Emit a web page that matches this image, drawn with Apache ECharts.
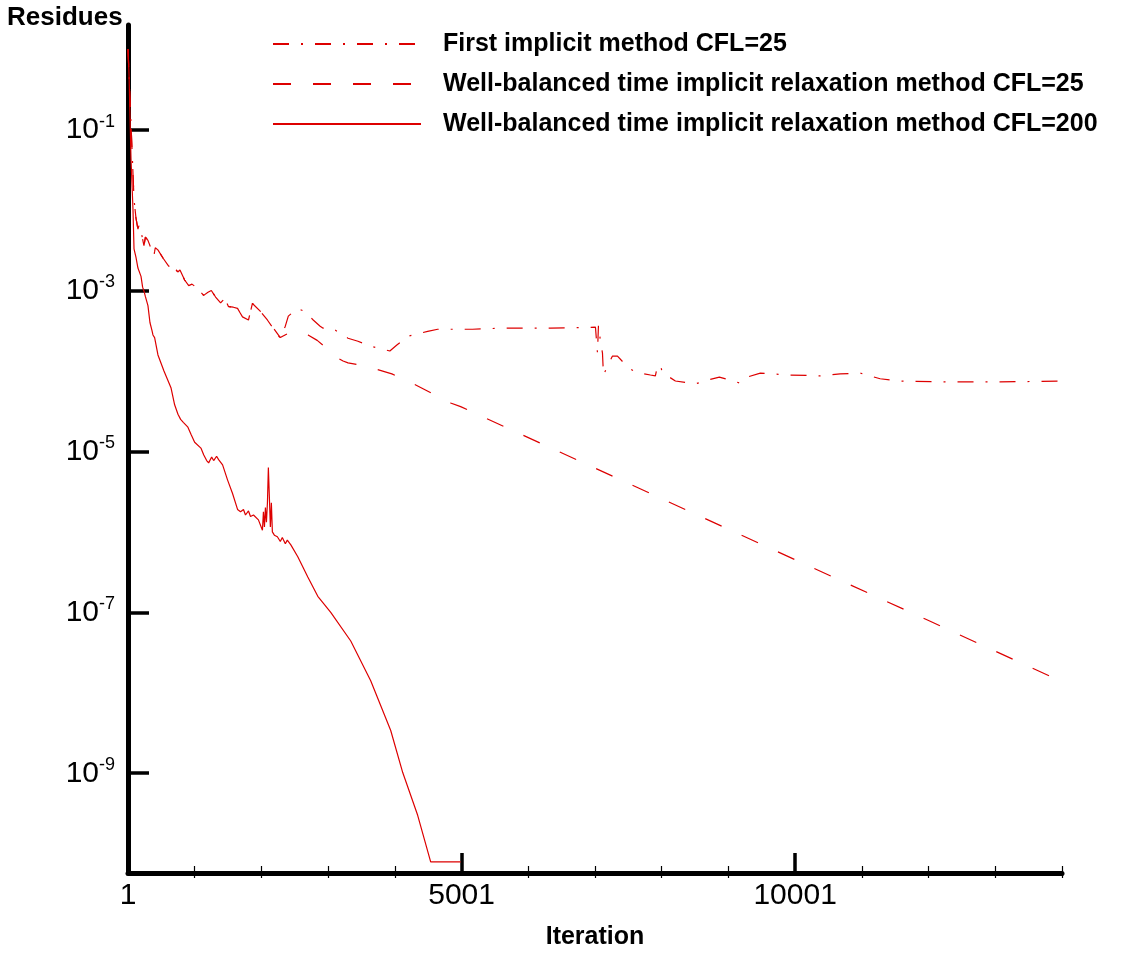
<!DOCTYPE html>
<html>
<head>
<meta charset="utf-8">
<script src="https://cdn.jsdelivr.net/npm/echarts@6/dist/echarts.min.js"></script>
<style>
  html, body { margin: 0; padding: 0; background: #fff; }
  #chart { width: 1140px; height: 955px; }
</style>
</head>
<body>
<div id="chart"></div>
<script>
// ---- Data (iteration, residue) ----
const seriesNames = [
  'First implicit method CFL=25',
  'Well-balanced time implicit relaxation method CFL=25',
  'Well-balanced time implicit relaxation method CFL=200'
];

// shared early part of the two CFL=25 curves
const cfl25Early = [
  [1, 1.0], [30, 0.25], [60, 0.06], [91, 1.37e-2], [120, 8.0e-3], [150, 5.8e-3],
  [170, 6.6e-3], [195, 5.5e-3], [240, 3.6e-3], [262, 4.6e-3], [300, 4.2e-3],
  [389, 2.7e-3], [410, 3.4e-3], [449, 3.2e-3], [530, 2.5e-3], [613, 2.0e-3],
  [650, 2.2e-3], [700, 1.9e-3], [747, 1.7e-3], [780, 1.8e-3], [850, 1.35e-3],
  [911, 1.15e-3], [960, 1.2e-3], [1046, 1.06e-3], [1135, 8.7e-4], [1200, 9.5e-4],
  [1250, 1.0e-3], [1314, 8.3e-4], [1389, 7.0e-4], [1450, 8.0e-4], [1508, 6.3e-4],
  [1580, 6.2e-4], [1643, 6.0e-4], [1717, 4.7e-4], [1807, 4.3e-4], [1866, 6.9e-4],
  [1986, 5.5e-4], [2090, 4.3e-4]
];

const firstImplicitLate = [
  [2284, 2.55e-4], [2359, 3.6e-4], [2404, 4.8e-4], [2538, 6.0e-4], [2650, 5.5e-4],
  [2777, 4.3e-4], [2881, 3.6e-4], [2926, 3.4e-4], [3061, 3.4e-4], [3180, 2.95e-4],
  [3299, 2.55e-4], [3448, 2.34e-4], [3628, 2.04e-4], [3926, 1.77e-4], [4031, 2.1e-4],
  [4193, 2.7e-4], [4493, 3.1e-4], [4643, 3.3e-4], [4837, 3.3e-4], [5166, 3.3e-4],
  [5586, 3.4e-4], [6335, 3.4e-4], [7008, 3.5e-4], [7038, 1.67e-4], [7053, 3.7e-4],
  [7083, 2.34e-4], [7113, 1.67e-4], [7128, 8.9e-5], [7188, 1.15e-4], [7263, 1.53e-4],
  [7338, 1.53e-4], [7502, 1.09e-4], [7637, 9.4e-5], [7682, 9.4e-5], [7832, 8.9e-5],
  [7906, 8.7e-5], [7936, 1.15e-4], [7981, 1.19e-4], [8011, 9.4e-5], [8086, 8.7e-5],
  [8206, 7.5e-5], [8505, 6.9e-5], [8685, 7.7e-5], [8865, 8.4e-5], [9165, 7.1e-5],
  [9284, 8.4e-5], [9479, 9.4e-5], [9928, 8.9e-5], [10377, 8.7e-5], [10676, 9.2e-5],
  [10976, 9.4e-5], [11275, 8.0e-5], [11575, 7.5e-5], [12324, 7.3e-5], [13072, 7.3e-5],
  [14001, 7.5e-5]
];

const wellBalanced25Late = [
  [2284, 2.6e-4], [2420, 3.0e-4], [2553, 3.1e-4], [2700, 2.8e-4], [2837, 2.4e-4],
  [2950, 2.0e-4], [3061, 1.58e-4], [3225, 1.33e-4], [3299, 1.26e-4], [3450, 1.2e-4],
  [3658, 1.09e-4], [3956, 9.2e-5], [4254, 7.1e-5], [4553, 5.3e-5], [4837, 4.0e-5],
  [4987, 3.6e-5], [7001, 6.2e-6], [10001, 4.5e-7], [12001, 7.9e-8], [14001, 1.37e-8]
];

const wellBalanced200 = [
  [1, 1.0], [16, 0.5], [46, 4.3e-2], [76, 1.0e-2], [91, 3.3e-3], [120, 2.6e-3],
  [150, 1.9e-3], [196, 1.5e-3], [220, 1.1e-3], [241, 9.8e-4], [260, 8.5e-4],
  [300, 6.5e-4], [330, 4.0e-4], [360, 3.2e-4], [375, 2.8e-4], [400, 2.6e-4],
  [450, 1.58e-4], [540, 1.0e-4], [645, 6.2e-5], [700, 3.8e-5], [750, 2.9e-5],
  [790, 2.5e-5], [830, 2.3e-5], [899, 2.0e-5], [950, 1.6e-5], [1000, 1.3e-5],
  [1094, 1.1e-5], [1135, 9.1e-6], [1180, 7.7e-6], [1210, 7.2e-6], [1255, 8.5e-6],
  [1285, 7.7e-6], [1329, 8.7e-6], [1359, 7.9e-6], [1419, 6.8e-6], [1494, 4.4e-6],
  [1568, 3.0e-6], [1643, 1.9e-6], [1688, 1.78e-6], [1732, 1.9e-6], [1762, 1.62e-6],
  [1807, 1.82e-6], [1837, 1.55e-6], [1882, 1.62e-6], [1956, 1.41e-6], [2016, 1.05e-6],
  [2031, 1.78e-6], [2046, 1.15e-6], [2061, 2.0e-6], [2076, 1.32e-6], [2091, 2.3e-6],
  [2105, 6.3e-6], [2120, 2.7e-6], [2135, 1.15e-6], [2150, 2.3e-6], [2165, 1.0e-6],
  [2195, 9.1e-7], [2240, 8.7e-7], [2284, 7.6e-7], [2314, 8.5e-7], [2359, 7.1e-7],
  [2389, 7.9e-7], [2442, 6.9e-7], [2546, 4.9e-7], [2696, 2.75e-7], [2846, 1.58e-7],
  [3040, 1.0e-7], [3340, 4.4e-8], [3639, 1.41e-8], [3939, 3.4e-9], [4119, 1.02e-9],
  [4343, 3.0e-10], [4538, 7.9e-11], [4987, 7.9e-11]
];

// axes / ticks
const xMin = 1, xMax = 14001;
const yMinExp = -10.24, yMaxExp = 0.3;
const xMajorTicks = [5001, 10001];
const xLabelValues = [1, 5001, 10001];
const xMinorTicks = [1001, 2001, 3001, 4001, 6001, 7001, 8001, 9001, 11001, 12001, 13001, 14001];
const yTickExps = [-1, -3, -5, -7, -9];

// ---- build ----
const toLog = arr => arr.map(([x, r]) => [x, Math.log10(r)]);
const FONT = '"Liberation Sans", Arial, sans-serif';
const RED = '#dd0000';
const gridRect = { left: 128, right: 78, top: 25, bottom: 77 };

const chart = echarts.init(document.getElementById('chart'), null, { renderer: 'canvas' });

chart.setOption({
  animation: false,
  backgroundColor: '#fff',
  title: {
    text: 'Residues', left: 7, top: 5, padding: 0,
    textStyle: { fontFamily: FONT, fontSize: 26, fontWeight: 'bold', color: '#000' }
  },
  legend: {
    orient: 'vertical', left: 272, top: 30, padding: 0,
    itemWidth: 148, itemHeight: 14, itemGap: 12,
    itemStyle: { opacity: 0 },
    textStyle: { fontFamily: FONT, fontSize: 25, fontWeight: 'bold', color: '#000', lineHeight: 28, padding: [0, 0, 0, 17] },
    data: seriesNames
  },
  grid: [
    Object.assign({}, gridRect),
    Object.assign({}, gridRect)
  ],
  xAxis: [
    {
      type: 'value', gridIndex: 0, min: xMin, max: xMax,
      name: 'Iteration', nameLocation: 'middle', nameGap: 52,
      nameTextStyle: { fontFamily: FONT, fontSize: 25, fontWeight: 'bold', color: '#000' },
      axisLine: { show: true, onZero: false, lineStyle: { color: '#000', width: 5 } },
      axisTick: { show: true, inside: true, length: 20, customValues: xMajorTicks, lineStyle: { color: '#000', width: 3.5 } },
      axisLabel: { customValues: xLabelValues, formatter: v => String(v), fontFamily: FONT, fontSize: 30, color: '#000', margin: 8 },
      splitLine: { show: false }
    },
    {
      type: 'value', gridIndex: 1, min: xMin, max: xMax, position: 'bottom',
      axisLine: { show: false, onZero: false },
      axisTick: { show: true, inside: true, length: 12, customValues: xMinorTicks, lineStyle: { color: '#000', width: 1.2 } },
      axisLabel: { show: false },
      splitLine: { show: false }
    }
  ],
  yAxis: [
    {
      type: 'value', gridIndex: 0, min: yMinExp, max: yMaxExp,
      axisLine: { show: true, onZero: false, lineStyle: { color: '#000', width: 5 } },
      axisTick: { show: true, inside: true, length: 21, customValues: yTickExps, lineStyle: { color: '#000', width: 3.5 } },
      axisLabel: {
        customValues: yTickExps, margin: 13, color: '#000',
        formatter: v => '{b|10}{s|' + v + '}',
        rich: {
          b: { fontFamily: FONT, fontSize: 30, color: '#000' },
          s: { fontFamily: FONT, fontSize: 18, color: '#000', verticalAlign: 'top', padding: [0, 0, 16, 0] }
        }
      },
      splitLine: { show: false }
    },
    {
      type: 'value', gridIndex: 1, min: yMinExp, max: yMaxExp,
      show: false
    }
  ],
  series: [
    {
      name: seriesNames[0], type: 'line', xAxisIndex: 0, yAxisIndex: 0,
      showSymbol: false, symbol: 'none',
      data: toLog(cfl25Early.concat(firstImplicitLate)),
      lineStyle: { color: RED, width: 1.2, type: [16, 12, 2, 12] },
      itemStyle: { color: RED }
    },
    {
      name: seriesNames[1], type: 'line', xAxisIndex: 0, yAxisIndex: 0,
      showSymbol: false, symbol: 'none',
      data: toLog(cfl25Early.concat(wellBalanced25Late)),
      lineStyle: { color: RED, width: 1.2, type: [18, 22] },
      itemStyle: { color: RED }
    },
    {
      name: seriesNames[2], type: 'line', xAxisIndex: 0, yAxisIndex: 0,
      showSymbol: false, symbol: 'none',
      data: toLog(wellBalanced200),
      lineStyle: { color: RED, width: 1.2, type: 'solid' },
      itemStyle: { color: RED }
    }
  ]
});
</script>
</body>
</html>
